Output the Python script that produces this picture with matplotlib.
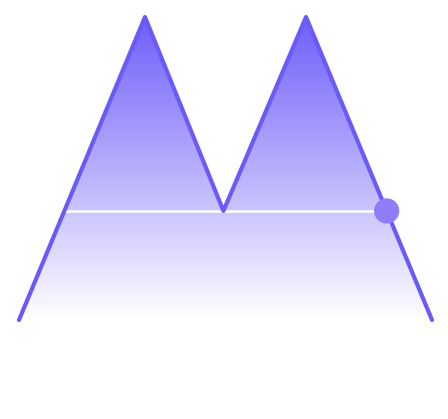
import numpy as np
import matplotlib
matplotlib.use('Agg')
import matplotlib.pyplot as plt
from matplotlib.colors import LinearSegmentedColormap

# data
x_pos = [0, 1.22, 1.98, 2.78, 4]
values = [0, 100, 36, 100, 0]
threshold = 36

fig = plt.figure(figsize=(4.48, 4.19), dpi=100)
ax = fig.add_axes([19 / 448, 99 / 419, 413 / 448, 303 / 419])
ax.set_xlim(0, 4)
ax.set_ylim(0, 100)
ax.axis('off')

# gradient fill under the line
cmap = LinearSegmentedColormap.from_list('grad', ['#ffffff', '#6e5efa'])
grad = np.linspace(0, 1, 256).reshape(-1, 1)
img = ax.imshow(grad, cmap=cmap, aspect='auto', extent=[0, 4, 0, 100],
                origin='lower', zorder=1)
clip = plt.Polygon(list(zip(x_pos, values)) + [(4, 0), (0, 0)],
                   closed=True, transform=ax.transData)
img.set_clip_path(clip)

# where the threshold crosses the outer slopes
frac = 1 - threshold / 100
x_left = x_pos[1] * (threshold / 100)
x_right = x_pos[3] + frac * (x_pos[4] - x_pos[3])
ax.plot([x_left, x_right], [threshold, threshold], color='white', lw=1.8, zorder=2)

ax.plot(x_pos, values, color='#6a5af9', lw=3, solid_joinstyle='round',
        solid_capstyle='round', zorder=3, clip_on=False)
ax.scatter([x_right], [threshold], s=330, color='#8f7dfb', zorder=4,
           clip_on=False, edgecolors='none')

fig.savefig('out.png', dpi=100)
